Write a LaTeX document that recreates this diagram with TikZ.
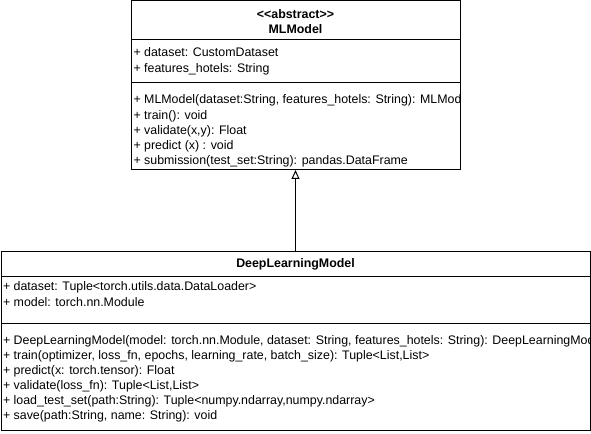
\documentclass[tikz,border=0pt]{standalone}
\usepackage{fontspec}
\setmainfont{Liberation Sans}
\usetikzlibrary{arrows.meta}
\tikzset{
  classbox/.style={draw=black, line width=0.75pt, inner sep=0pt, outer sep=0pt, fill=white},
  member/.style={anchor=base west, inner sep=0pt, outer sep=0pt, font=\fontsize{9.3pt}{11pt}\selectfont},
  head/.style={anchor=base, inner sep=0pt, outer sep=0pt, font=\fontsize{9.3pt}{11pt}\selectfont\bfseries},
  sepline/.style={line width=0.75pt},
  inherit/.style={line width=0.75pt, -{Triangle[open, length=6.75pt, width=6pt, fill=white]}}
}
\begin{document}
\begin{tikzpicture}[x=0.75pt,y=-0.75pt]
\useasboundingbox (0,0) rectangle (591,434);
% MLModel box
\node[classbox, minimum width=246.75pt, minimum height=126.75pt] (ml) at (295.5,85.5) {};
\draw[sepline] ([yshift=-29.25pt]ml.north west) -- ([yshift=-29.25pt]ml.north east);
\draw[sepline] ([yshift=-61.5pt]ml.north west) -- ([yshift=-61.5pt]ml.north east);
\begin{scope}
\clip (ml.north west) rectangle (ml.south east);
\node[head] (mlstereo) at (295.5,19) {{<}{<}abstract{>}{>}};
\node[head] (mlname) at (295.5,33.5) {MLModel};
\node[member] (mla1) at (133.5,57) {+ dataset: CustomDataset};
\node[member] (mla2) at (133.5,72.5) {+ features\_hotels: String};
\node[member] (mlm1) at (133.5,104) {+ MLModel(dataset:String, features\_hotels: String): MLModel};
\node[member] (mlm2) at (133.5,119.5) {+ train(): void};
\node[member] (mlm3) at (133.5,134.5) {+ validate(x,y): Float};
\node[member] (mlm4) at (133.5,149.5) {+ predict (x) : void};
\node[member] (mlm5) at (133.5,164.5) {+ submission(test\_set:String): pandas.DataFrame};
\end{scope}
% DeepLearningModel box
\node[classbox, minimum width=441.75pt, minimum height=134.25pt] (dl) at (295.5,340.5) {};
\draw[sepline] ([yshift=-18.75pt]dl.north west) -- ([yshift=-18.75pt]dl.north east);
\draw[sepline] ([yshift=-54pt]dl.north west) -- ([yshift=-54pt]dl.north east);
\begin{scope}
\clip (dl.north west) rectangle (dl.south east);
\node[head] (dlname) at (295.5,267.5) {DeepLearningModel};
\node[member] (dla1) at (3,290.5) {+ dataset: Tuple<torch.utils.data.DataLoader>};
\node[member] (dla2) at (3,306) {+ model: torch.nn.Module};
\node[member] (dlm1) at (3,344) {+ DeepLearningModel(model: torch.nn.Module, dataset: String, features\_hotels: String): DeepLearningModel};
\node[member] (dlm2) at (3,359.5) {+ train(optimizer, loss\_fn, epochs, learning\_rate, batch\_size): Tuple<List,List>};
\node[member] (dlm3) at (3,374.5) {+ predict(x: torch.tensor): Float};
\node[member] (dlm4) at (3,389.5) {+ validate(loss\_fn): Tuple<List,List>};
\node[member] (dlm5) at (3,404.5) {+ load\_test\_set(path:String): Tuple<numpy.ndarray,numpy.ndarray>};
\node[member] (dlm6) at (3,419.5) {+ save(path:String, name: String): void};
\end{scope}
% inheritance
\draw[inherit] (dl.north) -- (ml.south);
\end{tikzpicture}
\end{document}
